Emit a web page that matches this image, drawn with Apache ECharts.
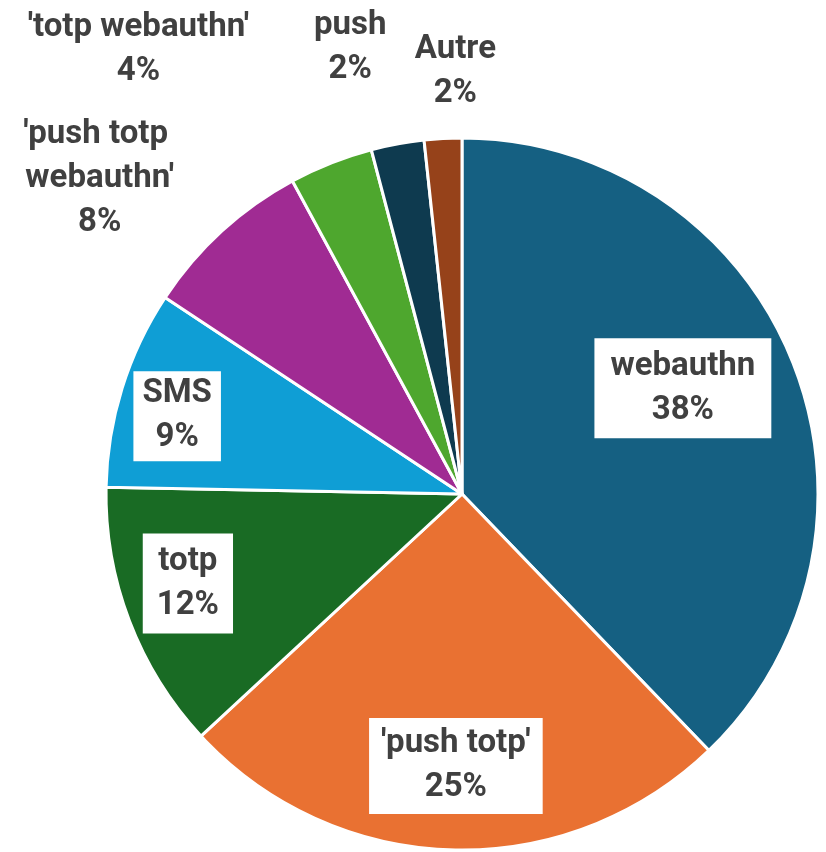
<!DOCTYPE html>
<html>
<head>
	<meta charset="UTF-8">
	<title></title>
	<style>
		html, body { margin: 0; padding: 0; background: #fff; }
		#chart { width: 826px; height: 852px; }
	</style>
	<script src="https://cdn.jsdelivr.net/npm/echarts@6/dist/echarts.min.js"></script>
</head>
<body>
	<div id="chart"></div>
	<script>
		var categories = ['webauthn', "'push totp'", 'totp', 'SMS', "'push totp webauthn'", "'totp webauthn'", 'push', 'Autre'];
		var values = [37.8, 25.3, 12.2, 9.0, 7.8, 3.8, 2.4, 1.7];
		var colors = ['#156082', '#E97132', '#196B24', '#0F9ED5', '#A02B93', '#4EA72E', '#0E3A4F', '#96421A'];

		// label placement relative to the default inside spot
		var labelOffsets = [[53, -38], [-1, 91], [-105, 25], [-112, -24], [-240, -182], [-257, -276], [-79, -268], [3, -242]];
		var boxed = [true, true, true, true, false, false, false, false];
		var boxPadding = [[6, 16], [4, 12], [6, 14], [1, 9]];

		var chart = echarts.init(document.getElementById('chart'));

		var pieData = categories.map(function (name, i) {
			var lbl = {
				offset: labelOffsets[i]
			};
			if (boxed[i]) {
				lbl.backgroundColor = '#fff';
				lbl.padding = boxPadding[i];
			}
			if (i === 4) {
				lbl.width = 180;
				lbl.overflow = 'break';
			}
			return {
				name: name,
				value: values[i],
				itemStyle: { color: colors[i] },
				label: lbl
			};
		});

		chart.setOption({
			animation: false,
			series: [{
				type: 'pie',
				center: [462, 494],
				radius: [0, 356],
				startAngle: 90,
				clockwise: true,
				percentPrecision: 0,
				avoidLabelOverlap: false,
				itemStyle: {
					borderColor: '#fff',
					borderWidth: 3
				},
				label: {
					show: true,
					position: 'inside',
					formatter: '{b}\n{d}%',
					color: '#404040',
					fontFamily: 'Roboto',
					fontWeight: 'bold',
					fontSize: 33,
					lineHeight: 44,
					align: 'center'
				},
				labelLine: { show: false },
				emphasis: { disabled: true },
				data: pieData
			}]
		});
	</script>
</body>
</html>
